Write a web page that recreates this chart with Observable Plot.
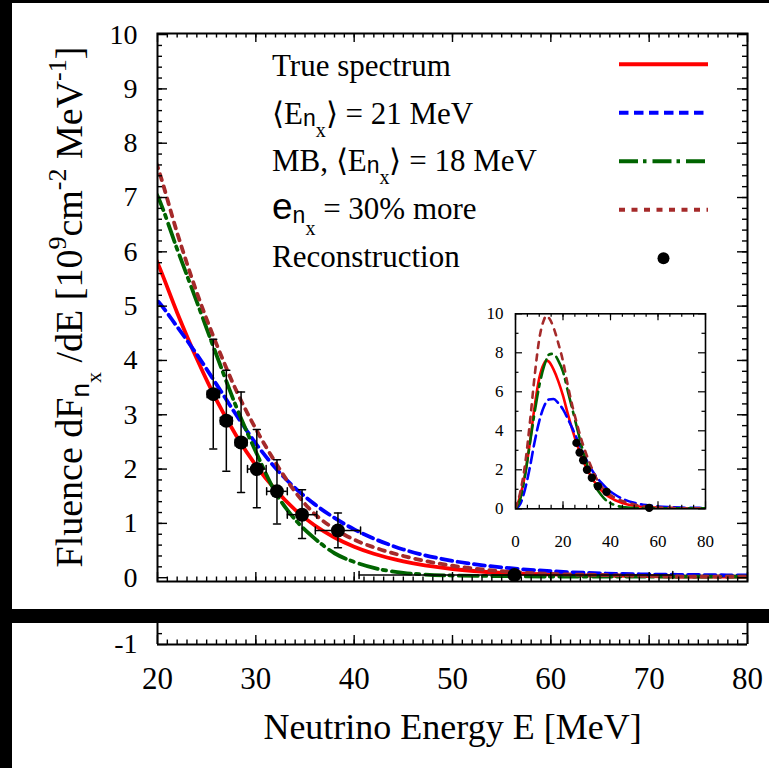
<!DOCTYPE html>
<html>
<head>
<meta charset="utf-8">
<script src="https://cdn.jsdelivr.net/npm/d3@7"></script>
<script src="https://cdn.jsdelivr.net/npm/@observablehq/plot@0.6"></script>
<style>
  html, body { margin: 0; padding: 0; background: #000; width: 769px; height: 768px; overflow: hidden; }
  #panelA { position: absolute; left: 12px; top: 3px; width: 757px; height: 606px; background: #fff; overflow: hidden; }
  #panelB { position: absolute; left: 12px; top: 623px; width: 757px; height: 145px; background: #fff; overflow: hidden; }
  #main { position: absolute; left: 0; top: 0; }
  #inset { position: absolute; left: 458px; top: 297px; }
  svg { display: block; }
</style>
</head>
<body>
<div id="panelA"><div id="main"></div><div id="inset"></div></div>
<div id="panelB"></div>
<script>
// ---------------- data ----------------
const energy = [0, 2, 4, 6, 8, 10, 12, 13, 14, 16, 18, 20, 22, 24, 26, 28, 30, 32, 34, 36, 38, 40, 42, 45, 50, 55, 60, 65, 70, 75, 80];
const trueSpectrum = [0, 0.65, 1.75, 3.35, 5.2, 6.7, 7.45, 7.6, 7.55, 7.15, 6.55, 5.80, 4.88, 4.03, 3.27, 2.62, 2.07, 1.62, 1.25, 0.96, 0.74, 0.57, 0.44, 0.30, 0.16, 0.09, 0.06, 0.04, 0.03, 0.02, 0.02];
const mean21 = [0, 0.25, 1.0, 2.1, 3.4, 4.5, 5.25, 5.48, 5.6, 5.63, 5.42, 5.10, 4.62, 4.11, 3.56, 3.00, 2.47, 2.02, 1.65, 1.35, 1.10, 0.89, 0.72, 0.52, 0.31, 0.19, 0.12, 0.08, 0.06, 0.05, 0.04];
const mbMean18 = [0, 0.5, 1.7, 3.3, 4.9, 6.3, 7.3, 7.65, 7.9, 7.95, 7.6, 7.03, 6.05, 5.08, 4.10, 3.15, 2.32, 1.57, 1.07, 0.72, 0.45, 0.29, 0.18, 0.09, 0.04, 0.03, 0.02, 0.02, 0.02, 0.02, 0.02];
const lum30 = [0, 0.85, 2.25, 4.35, 6.75, 8.7, 9.7, 9.9, 9.8, 9.3, 8.5, 7.57, 6.35, 5.25, 4.30, 3.45, 2.74, 2.12, 1.58, 1.17, 0.90, 0.70, 0.56, 0.40, 0.22, 0.12, 0.07, 0.05, 0.03, 0.02, 0.02];

const recoEnergy     = [25.67, 27.0, 28.5, 30.1, 32.15, 34.7, 38.35, 56.3];
const recoFluence    = [3.38, 2.89, 2.49, 2.00, 1.59, 1.16, 0.87, 0.05];
const recoLow        = [2.37, 1.96, 1.57, 1.29, 0.99, 0.72, 0.55, 0.05];
const recoHigh       = [4.39, 3.82, 3.42, 2.73, 2.17, 1.62, 1.19, 0.05];
const recoEnergyLow  = [25.05, 26.4, 27.9, 29.15, 31.1, 33.2, 36.05, 40.5];
const recoEnergyHigh = [26.3, 27.6, 29.1, 31.05, 33.2, 36.2, 40.65, 72.4];

const xMajorTicks = [20, 30, 40, 50, 60, 70, 80];
const yMajorTicks = [0, 1, 2, 3, 4, 5, 6, 7, 8, 9, 10];
const xMinorTicks = d3.range(21, 80, 1);
const yMinorTicks = d3.range(1, 50).map(i => i * 0.2);
const stripYTicks = [-1];
const stripYMinor = [-0.8];
const insetXTicks = [0, 20, 40, 60, 80];
const insetXMinor = d3.range(5, 80, 5);
const insetYTicks = [0, 2, 4, 6, 8, 10];
const insetYMinor = [1, 3, 5, 7, 9];

const xTitle = "Neutrino Energy E [MeV]";

// ---------------- helpers ----------------
const serif = "'Liberation Serif', 'Times New Roman', Times, serif";
const sans = "'Liberation Sans', Arial, sans-serif";
const series = values => energy.map((e, i) => ({energy: e, value: values[i]}));
const points = recoEnergy.map((e, i) => ({
  energy: e, value: recoFluence[i], low: recoLow[i], high: recoHigh[i],
  eLow: recoEnergyLow[i], eHigh: recoEnergyHigh[i]
}));
const curveDefs = [
  {values: trueSpectrum, color: "#ff0000", dash: null},
  {values: mean21, color: "#0000ff", dash: "11,5.5"},
  {values: mbMean18, color: "#006400", dash: "19,5,3.5,6"},
  {values: lum30, color: "#a52a2a", dash: "6,6.5"}
];
const capShape = {draw(context, l) { context.moveTo(0, 0); context.lineTo(0, -l); }};

// ---------------- main plot ----------------
const W = 757, H = 606, mL = 145, mR = 22, mT = 30, mB = 28;
const fw = W - mL - mR, fh = H - mT - mB;
const tickStyle = {stroke: "black", strokeWidth: 1.4};

const main = Plot.plot({
  width: W, height: H, marginLeft: mL, marginRight: mR, marginTop: mT, marginBottom: mB,
  style: {fontFamily: serif, background: "white", color: "black"},
  x: {domain: [20, 80], axis: null},
  y: {domain: [-0.07, 10.02], axis: null},
  marks: [
    Plot.axisY(yMajorTicks, {anchor: "left", tickSize: 0, tickPadding: 20, fontSize: 28, tickFormat: d => String(d), label: null}),
    ...curveDefs.map(c => Plot.line(series(c.values), {
      x: "energy", y: "value", stroke: c.color, strokeWidth: 3.8,
      strokeDasharray: c.dash, curve: "monotone-x", clip: true
    })),
    Plot.ruleX(points, {x: "energy", y1: "low", y2: "high", stroke: "black", strokeWidth: 1.5}),
    Plot.ruleY(points, {y: "value", x1: "eLow", x2: "eHigh", stroke: "black", strokeWidth: 1.5}),
    Plot.vector(points, {x: "energy", y: "high", length: 7, rotate: 90, anchor: "middle", shape: capShape, stroke: "black", strokeWidth: 1.5}),
    Plot.vector(points, {x: "energy", y: "low", length: 7, rotate: 90, anchor: "middle", shape: capShape, stroke: "black", strokeWidth: 1.5}),
    Plot.vector(points, {x: "eLow", y: "value", length: 7, rotate: 0, anchor: "middle", shape: capShape, stroke: "black", strokeWidth: 1.5}),
    Plot.vector(points, {x: "eHigh", y: "value", length: 7, rotate: 0, anchor: "middle", shape: capShape, stroke: "black", strokeWidth: 1.5}),
    Plot.dot(points, {x: "energy", y: "value", r: 7, fill: "black"}),
    // inward ticks on all four sides
    Plot.tickX(xMinorTicks, {x: d => d, insetTop: fh - 4.5, ...tickStyle}),
    Plot.tickX(xMajorTicks, {x: d => d, insetTop: fh - 9, ...tickStyle}),
    Plot.tickX(xMinorTicks, {x: d => d, insetBottom: fh - 4.5, ...tickStyle}),
    Plot.tickX(xMajorTicks, {x: d => d, insetBottom: fh - 9, ...tickStyle}),
    Plot.tickY(yMinorTicks, {y: d => d, insetRight: fw - 5, ...tickStyle}),
    Plot.tickY(yMajorTicks, {y: d => d, insetRight: fw - 10, ...tickStyle}),
    Plot.tickY(yMinorTicks, {y: d => d, insetLeft: fw - 5, ...tickStyle}),
    Plot.tickY(yMajorTicks, {y: d => d, insetLeft: fw - 10, ...tickStyle}),
    Plot.frame({stroke: "black", strokeWidth: 2})
  ]
});
document.getElementById("main").appendChild(main);

// rich-text helper (relative dy so the text stays one chunk)
function rich(textSel, parts) {
  let cur = 0;
  for (const p of parts) {
    const off = p.off || 0;
    textSel.append("tspan").text(p.t)
      .attr("dy", off - cur)
      .attr("font-size", p.size)
      .attr("font-family", p.family || serif);
    cur = off;
  }
}

const svgMain = d3.select(main);

// y-axis title
const yt = svgMain.append("text")
  .attr("transform", "translate(70,304) rotate(-90)")
  .attr("text-anchor", "middle").attr("fill", "black");
rich(yt, [
  {t: "Fluence dF", size: 38},
  {t: "n", size: 26, off: 7, family: sans},
  {t: "x", size: 22, off: 19},
  {t: " /dE [10", size: 38, off: 0},
  {t: "9", size: 26, off: -16},
  {t: "cm", size: 38, off: 0},
  {t: "-2", size: 26, off: -16},
  {t: " MeV", size: 38, off: 0},
  {t: "-1", size: 26, off: -16},
  {t: "]", size: 38, off: 0}
]);

// legend
const legendRows = [
  {parts: [{t: "True spectrum", size: 31}], color: "#ff0000", dash: null},
  {parts: [{t: "\u27E8E", size: 31}, {t: "n", size: 23, off: 2, family: sans}, {t: "x", size: 20, off: 13}, {t: "\u27E9 = 21 MeV", size: 31, off: 0}], color: "#0000ff", dash: "9.5,5.5"},
  {parts: [{t: "MB, \u27E8E", size: 31}, {t: "n", size: 23, off: 2, family: sans}, {t: "x", size: 20, off: 13}, {t: "\u27E9 = 18 MeV", size: 31, off: 0}], color: "#006400", dash: "19,5,3.5,6"},
  {parts: [{t: "e", size: 37, family: sans}, {t: "n", size: 23, off: 4, family: sans}, {t: "x", size: 20, off: 16}, {t: " = 30% more", size: 31, off: 0}], color: "#a52a2a", dash: "6,6.5"},
  {parts: [{t: "Reconstruction", size: 31}], dot: true}
];
const lg = svgMain.append("g").attr("fill", "black");
legendRows.forEach((row, i) => {
  const base = 73 + i * 47.7;
  const lineY = 61.3 + i * 48.5;
  const t = lg.append("text").attr("x", 260).attr("y", base).attr("text-anchor", "start");
  rich(t, row.parts);
  if (row.dot) {
    lg.append("circle").attr("cx", 651.5).attr("cy", lineY).attr("r", 6).attr("fill", "black");
  } else {
    lg.append("line").attr("x1", 607).attr("x2", 696).attr("y1", lineY).attr("y2", lineY)
      .attr("stroke", row.color).attr("stroke-width", 4)
      .attr("stroke-dasharray", row.dash);
  }
});

// ---------------- inset ----------------
const iW = 260, iH = 260, imL = 45, imR = 25, imT = 13.3, imB = 51.7;
const ifw = iW - imL - imR, ifh = iH - imT - imB;
const iTick = {stroke: "black", strokeWidth: 1.2};
const inset = Plot.plot({
  width: iW, height: iH, marginLeft: imL, marginRight: imR, marginTop: imT, marginBottom: imB,
  style: {fontFamily: serif, background: "transparent", color: "black"},
  x: {domain: [0, 80], axis: null},
  y: {domain: [0, 10], axis: null},
  marks: [
    Plot.axisY(insetYTicks, {anchor: "left", tickSize: 0, tickPadding: 12, fontSize: 17, tickFormat: d => String(d), label: null}),
    Plot.axisX(insetXTicks, {anchor: "bottom", tickSize: 0, tickPadding: 26, fontSize: 17, tickFormat: d => String(d), label: null}),
    ...curveDefs.map(c => Plot.line(series(c.values), {
      x: "energy", y: "value", stroke: c.color, strokeWidth: 2.6,
      strokeDasharray: c.dash, curve: "monotone-x", clip: true
    })),
    Plot.dot(points, {x: "energy", y: "value", r: 4.2, fill: "black"}),
    Plot.tickX(insetXMinor, {x: d => d, insetTop: ifh - 3.5, ...iTick}),
    Plot.tickX(insetXTicks, {x: d => d, insetTop: ifh - 7, ...iTick}),
    Plot.tickX(insetXMinor, {x: d => d, insetBottom: ifh - 3.5, ...iTick}),
    Plot.tickX(insetXTicks, {x: d => d, insetBottom: ifh - 7, ...iTick}),
    Plot.tickY(insetYMinor, {y: d => d, insetRight: ifw - 3.5, ...iTick}),
    Plot.tickY(insetYTicks, {y: d => d, insetRight: ifw - 7, ...iTick}),
    Plot.tickY(insetYMinor, {y: d => d, insetLeft: ifw - 3.5, ...iTick}),
    Plot.tickY(insetYTicks, {y: d => d, insetLeft: ifw - 7, ...iTick}),
    Plot.frame({stroke: "black", strokeWidth: 1.6})
  ]
});
document.getElementById("inset").appendChild(inset);

// ---------------- lower strip (below the black band) ----------------
const sH = 145, sFh = 21;
const strip = Plot.plot({
  width: W, height: sH, marginLeft: mL, marginRight: mR, marginTop: 0, marginBottom: sH - sFh,
  style: {fontFamily: serif, background: "white", color: "black"},
  x: {domain: [20, 80], axis: null},
  y: {domain: [-1, -1 + sFh / (fh / 10.09)], axis: null},
  marks: [
    Plot.axisY(stripYTicks, {anchor: "left", tickSize: 0, tickPadding: 20, fontSize: 28, tickFormat: d => String(d), label: null}),
    Plot.axisX(xMajorTicks, {anchor: "bottom", tickSize: 0, tickPadding: 22.5, fontSize: 31, tickFormat: d => String(d), label: null}),
    Plot.tickX(xMinorTicks, {x: d => d, insetTop: sFh - 4.5, ...tickStyle}),
    Plot.tickX(xMajorTicks, {x: d => d, insetTop: sFh - 9, ...tickStyle}),
    Plot.tickY(stripYMinor, {y: d => d, insetRight: fw - 5, ...tickStyle}),
    Plot.tickY(stripYTicks, {y: d => d, insetRight: fw - 10, ...tickStyle}),
    Plot.tickY(stripYMinor, {y: d => d, insetLeft: fw - 5, ...tickStyle}),
    Plot.tickY(stripYTicks, {y: d => d, insetLeft: fw - 10, ...tickStyle}),
    Plot.ruleX([20, 80], {stroke: "black", strokeWidth: 2}),
    Plot.ruleY([-1], {stroke: "black", strokeWidth: 2}),
    Plot.text([xTitle], {text: d => d, frameAnchor: "bottom", dy: 83, lineAnchor: "middle", fontSize: 36, fill: "black"})
  ]
});
document.getElementById("panelB").appendChild(strip);
</script>
</body>
</html>
